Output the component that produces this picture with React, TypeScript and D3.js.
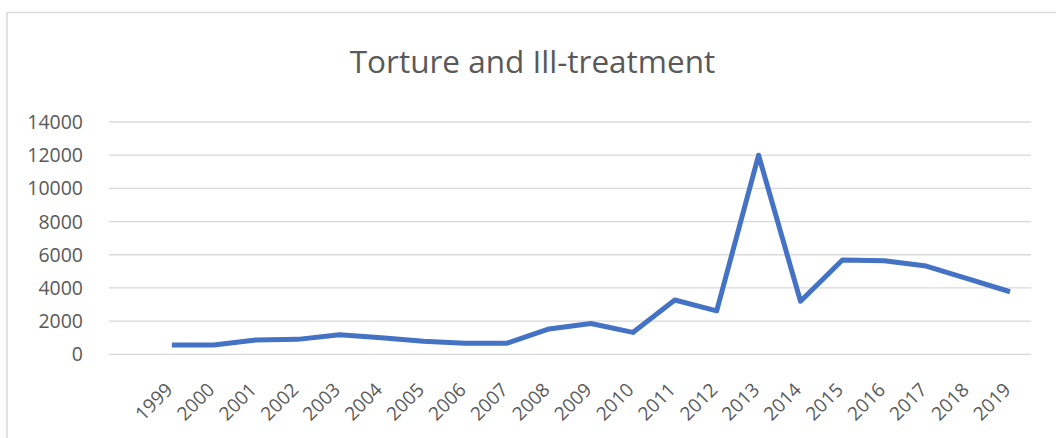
import React from "react";
import * as d3 from "d3";

const years = ["", "1999", "2000", "2001", "2002", "2003", "2004", "2005", "2006", "2007", "2008", "2009", "2010", "2011", "2012", "2013", "2014", "2015", "2016", "2017", "2018", "2019"];
const values: (number | null)[] = [null, 560, 560, 865, 900, 1180, 1000, 790, 670, 670, 1530, 1860, 1320, 3270, 2620, 12000, 3200, 5680, 5640, 5320, 4540, 3770];
const yTicks = [0, 2000, 4000, 6000, 8000, 10000, 12000, 14000];
const title = "Torture and Ill-treatment";

const W = 1056;
const H = 438;
const left = 109;
const right = 1031;
const top = 122;
const bottom = 354.3;
const font = "'Open Sans', sans-serif";
const textColor = "#595959";

export default function App() {
  const keys = years.map((yr, i) => i + ":" + yr);
  const x = d3.scaleBand<string>().domain(keys).range([left, right]);
  const y = d3.scaleLinear().domain([0, 14000]).range([bottom, top]);
  const pts = values
    .map((v, i) => (v == null ? null : [x(keys[i])! + x.bandwidth() / 2, y(v)] as [number, number]))
    .filter((p): p is [number, number] => p !== null);
  const line = d3.line<[number, number]>().x((d) => d[0]).y((d) => d[1]);

  return (
    <svg width={W} height={H} style={{ position: "absolute", left: 0, top: 0, background: "#fff" }}>
      <rect x={0} y={0} width={W} height={H} fill="#fff" />
      <line x1={7} y1={12.5} x2={W} y2={12.5} stroke="#D9D9D9" strokeWidth={1.5} />
      <line x1={7} y1={12} x2={7} y2={H} stroke="#D9D9D9" strokeWidth={1.5} />
      <text x={532.5} y={73} textAnchor="middle" fontFamily={font} fontSize={31.5} fill={textColor}>
        {title}
      </text>
      {yTicks.map((t) => (
        <g key={t}>
          <line x1={left} x2={right} y1={y(t)} y2={y(t)} stroke="#D9D9D9" strokeWidth={1.3} />
          <text x={83} y={y(t)} dy="0.36em" textAnchor="end" fontFamily={font} fontSize={19.5} fill={textColor}>
            {t}
          </text>
        </g>
      ))}
      {years.map((yr, i) =>
        yr ? (
          <text
            key={yr}
            transform={`translate(${x(keys[i])! + x.bandwidth() / 2 + 2},${391}) rotate(-45)`}
            textAnchor="end"
            fontFamily={font}
            fontSize={19}
            fill={textColor}
          >
            {yr}
          </text>
        ) : null
      )}
      <path d={line(pts)!} fill="none" stroke="#4472C4" strokeWidth={5} strokeLinejoin="round" strokeLinecap="butt" />
    </svg>
  );
}
